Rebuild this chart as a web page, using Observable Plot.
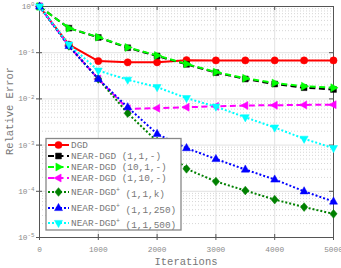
<!DOCTYPE html>
<html><head><meta charset="utf-8">
<script src="https://cdn.jsdelivr.net/npm/d3@7"></script>
<script src="https://cdn.jsdelivr.net/npm/@observablehq/plot@0.6"></script>
<style>body{margin:0;background:#fff}#chart{position:relative;width:341px;height:268px}</style>
</head><body><div id="chart"></div>
<script>
const iterations = [0, 500, 1000, 1500, 2000, 2500, 3000, 3500, 4000, 4500, 5000];
const dgd          = [1, 0.15, 0.066, 0.062, 0.062, 0.069, 0.068, 0.068, 0.068, 0.068, 0.068];
const nearDgd_1_1  = [1, 0.34, 0.214, 0.128, 0.085, 0.056, 0.037, 0.027, 0.021, 0.0175, 0.016];
const nearDgd_10_1 = [1, 0.34, 0.217, 0.13, 0.087, 0.057, 0.038, 0.028, 0.022, 0.0188, 0.0174];
const nearDgd_1_10 = [1, 0.14, 0.027, 0.0061, 0.0063, 0.0066, 0.0069, 0.0072, 0.0073, 0.0074, 0.0075];
const nearDgdPlus_k   = [1, 0.14, 0.027, 0.0049, 0.0012, 0.000306, 0.000163, 0.000104, 0.000066, 0.0000455, 0.0000325];
const nearDgdPlus_250 = [1, 0.14, 0.027, 0.0066, 0.00175, 0.00086, 0.0005, 0.000296, 0.00018, 0.0001, 0.00006];
const nearDgdPlus_500 = [1, 0.15, 0.041, 0.026, 0.018, 0.0104, 0.0068, 0.004, 0.0024, 0.00137, 0.00086];

const seriesNames = ["DGD", "NEAR-DGD (1,1,-)", "NEAR-DGD (10,1,-)", "NEAR-DGD (1,10,-)", "NEAR-DGD+ (1,1,k)", "NEAR-DGD+ (1,1,250)", "NEAR-DGD+ (1,1,500)"];
const seriesValues = [dgd, nearDgd_1_1, nearDgd_10_1, nearDgd_1_10, nearDgdPlus_k, nearDgdPlus_250, nearDgdPlus_500];
const xTicks = [0, 1000, 2000, 3000, 4000, 5000];
const yDecades = [1e-5, 1e-4, 1e-3, 1e-2, 1e-1, 1];
const yMinor = yDecades.slice(0, 5).flatMap(d => [2,3,4,5,6,7,8,9].map(k => k * d));

function tri(angleDeg) {
  return {draw(ctx, size) {
    const r = Math.sqrt(size / Math.PI), a = angleDeg * Math.PI / 180;
    const pts = [[0, -1.15 * r], [r, 0.65 * r], [-r, 0.65 * r]];
    pts.forEach(([x, y], i) => {
      const X = x * Math.cos(a) - y * Math.sin(a), Y = x * Math.sin(a) + y * Math.cos(a);
      i ? ctx.lineTo(X, Y) : ctx.moveTo(X, Y);
    });
    ctx.closePath();
  }};
}
const diamond = {draw(ctx, size) {
  const r = Math.sqrt(size / Math.PI);
  ctx.moveTo(0, -1.15 * r); ctx.lineTo(0.95 * r, 0); ctx.lineTo(0, 1.15 * r); ctx.lineTo(-0.95 * r, 0); ctx.closePath();
}};

const styles = [
  {color: "#ff0000", dash: null, symbol: d3.symbolCircle, r: 3.6},
  {color: "#000000", dash: "6,3.5", symbol: d3.symbolSquare, r: 3.3},
  {color: "#00ff00", dash: "6,3.5", symbol: tri(90), r: 4},
  {color: "#ff00ff", dash: "6,3.5", symbol: tri(270), r: 4},
  {color: "#008000", dash: "2,2", symbol: diamond, r: 3.8},
  {color: "#0000ff", dash: "2,2", symbol: tri(0), r: 4},
  {color: "#00ffff", dash: "2,2", symbol: tri(180), r: 4}
];

const table = seriesNames.flatMap((name, s) => iterations.map((it, i) => ({series: s, name, iteration: it, error: seriesValues[s][i]})));

const W = 341, H = 268, mL = 39, mR = 8, mT = 6, mB = 31;
const innerW = W - mL - mR, innerH = H - mT - mB;

const marks = [
  Plot.gridY(yMinor, {stroke: "#bbb", strokeOpacity: 1, strokeDasharray: "1,2", strokeWidth: 0.6}),
  Plot.gridY(yDecades, {stroke: "#e2e2e2", strokeOpacity: 1, strokeWidth: 1}),
  Plot.gridX(xTicks, {stroke: "#e2e2e2", strokeOpacity: 1, strokeWidth: 1}),
  Plot.tickX(xTicks, {x: d => d, stroke: "#555", insetBottom: innerH - 4}),
  Plot.tickX(xTicks, {x: d => d, stroke: "#555", insetTop: innerH - 3}),
  Plot.tickY(yDecades, {y: d => d, stroke: "#555", insetLeft: innerW - 4}),
  Plot.tickY(yDecades, {y: d => d, stroke: "#555", insetRight: innerW - 3}),
  Plot.frame({stroke: "#555", strokeWidth: 1}),
  Plot.axisX(xTicks, {tickSize: 3, tickPadding: 6, tickFormat: d => String(d), fill: "#8a8a8a", stroke: "#555", label: null, fontSize: 7.8}),
  Plot.axisY(yDecades, {tickSize: 3, tickPadding: 2, tickFormat: d => String(Math.round(Math.log10(d))), fill: "#8a8a8a", stroke: "#555", label: null, fontSize: 7.8})
];
styles.forEach((st, s) => {
  const data = table.filter(d => d.series === s);
  marks.push(Plot.line(data, {x: "iteration", y: "error", stroke: st.color, strokeWidth: 2, strokeDasharray: st.dash, strokeLinecap: "butt"}));
  marks.push(Plot.dot(data, {x: "iteration", y: "error", fill: st.color, stroke: st.color, strokeWidth: 0.5, r: st.r, symbol: st.symbol}));
});

const chart = Plot.plot({
  width: W, height: H, marginLeft: mL, marginRight: mR, marginTop: mT, marginBottom: mB,
  style: {fontFamily: "'Liberation Mono', 'DejaVu Sans Mono', monospace", background: "#fff", overflow: "visible"},
  x: {domain: [0, 5000], axis: null},
  y: {type: "log", domain: [1e-5, 1], axis: null},
  marks
});
document.getElementById("chart").appendChild(chart);

const svg = d3.select(chart);
// superscript exponents on y tick labels
svg.selectAll('[aria-label="y-axis tick label"] text').each(function() {
  const t = d3.select(this), e = t.text();
  t.text("10");
  t.append("tspan").attr("dy", "-0.45em").attr("font-size", 5.8).text(e);
});

const font = "'Liberation Mono', 'DejaVu Sans Mono', monospace";
svg.append("text").attr("x", mL + innerW / 2).attr("y", 265).attr("text-anchor", "middle")
  .attr("font-family", font).attr("font-size", 10.5).attr("fill", "#777").text("Iterations");
svg.append("text").attr("transform", `translate(9,${mT + 105}) rotate(-90)`).attr("text-anchor", "middle")
  .attr("dy", "0.35em").attr("font-family", font).attr("font-size", 10.5).attr("fill", "#777").text("Relative Error");

// legend
const lg = svg.append("g").attr("text-anchor", "start");
lg.append("rect").attr("x", 46).attr("y", 138.5).attr("width", 135).attr("height", 91.5)
  .attr("fill", "#fff").attr("stroke", "#888").attr("stroke-width", 1.3);
const rowY = [145, 156, 167, 178, 192, 208, 223];
seriesNames.forEach((name, s) => {
  const st = styles[s], y = rowY[s];
  lg.append("line").attr("x1", 48).attr("x2", 69).attr("y1", y).attr("y2", y)
    .attr("stroke", st.color).attr("stroke-width", 2).attr("stroke-dasharray", st.dash);
  const p = d3.path(); st.symbol.draw(p, st.r * st.r * Math.PI);
  lg.append("path").attr("d", p.toString()).attr("transform", `translate(58.5,${y})`)
    .attr("fill", st.color).attr("stroke", st.color).attr("stroke-width", 0.5);
  const t = lg.append("text").attr("x", 71).attr("y", y).attr("dy", "0.35em").attr("text-anchor", "start")
    .attr("font-family", font).attr("font-size", 9.4).attr("fill", "#777");
  const m = name.match(/^(.*?)(\+?) (.*)$/);
  if (!m) { t.text(name); return; }
  t.append("tspan").text(m[1]);
  if (m[2]) t.append("tspan").attr("dy", "-0.45em").attr("font-size", 6.5).text("+");
  t.append("tspan").attr("dy", m[2] ? "0.45em" : null).attr("font-size", 9.4).text(" " + m[3]);
});
</script>
</body></html>
